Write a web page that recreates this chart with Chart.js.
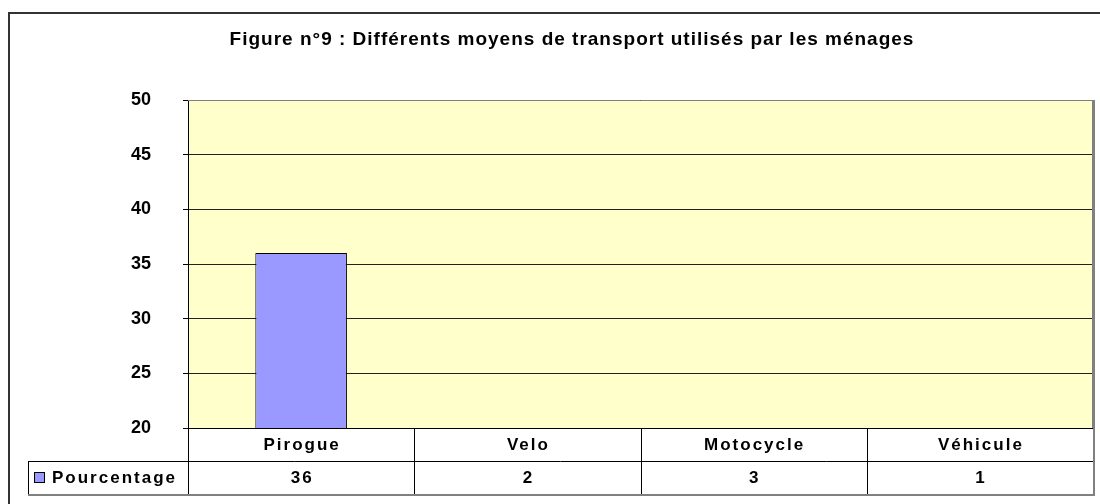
<!DOCTYPE html>
<html>
<head>
<meta charset="utf-8">
<script src="https://cdn.jsdelivr.net/npm/chart.js@4"></script>
<style>
  html, body { margin: 0; padding: 0; background: #fff; }
  #wrap { width: 1100px; height: 504px; }
</style>
</head>
<body>
<div id="wrap"><canvas id="myChart" width="1100" height="504"></canvas></div>
<script>
const chartTitle = 'Figure n°9 : Différents moyens de transport utilisés par les ménages';
const categories = ['Pirogue', 'Velo', 'Motocycle', 'Véhicule'];
const seriesName = 'Pourcentage';
const pourcentage = [36, 2, 3, 1];
const yTicks = [20, 25, 30, 35, 40, 45, 50];

const FONT = '"Liberation Sans", Arial, sans-serif';

// title, outer frame, plot border and the data table under the axis
const tablePlugin = {
    id: 'tablePlugin',
    beforeDraw(chart) {
        const ctx = chart.ctx;
        const a = chart.chartArea;
        ctx.save();
        ctx.fillStyle = '#fff';
        ctx.fillRect(0, 0, chart.width, chart.height);
        ctx.fillStyle = '#FFFFCC';
        ctx.fillRect(a.left, a.top, a.right - a.left, a.bottom - a.top);
        ctx.restore();
    },
    afterDraw(chart) {
        const ctx = chart.ctx;
        const a = chart.chartArea;
        const x = chart.scales.x;
        ctx.save();

        // outer frame
        ctx.strokeStyle = '#333';
        ctx.lineWidth = 2;
        ctx.strokeRect(9, 13, 1100, 500);

        // title
        ctx.fillStyle = '#000';
        ctx.font = 'bold 19px ' + FONT;
        ctx.letterSpacing = '1px';
        ctx.textAlign = 'center';
        ctx.textBaseline = 'middle';
        ctx.fillText(chartTitle, 572, 40);

        // plot border (top / right shadow)
        ctx.strokeStyle = '#808080';
        ctx.lineWidth = 1;
        ctx.beginPath();
        ctx.moveTo(a.left, a.top + 0.5);
        ctx.lineTo(a.right, a.top + 0.5);
        ctx.stroke();
        ctx.lineWidth = 3;
        ctx.beginPath();
        ctx.moveTo(a.right + 0.5, a.top);
        ctx.lineTo(a.right + 0.5, a.bottom);
        ctx.stroke();

        // table
        const rowH = 33;
        const y0 = a.bottom, y1 = a.bottom + rowH, y2 = a.bottom + 2 * rowH;
        const legendLeft = 28;
        ctx.strokeStyle = '#000';
        ctx.lineWidth = 1;
        ctx.beginPath();
        ctx.moveTo(a.left, y0 + 0.5); ctx.lineTo(a.right, y0 + 0.5);
        ctx.moveTo(legendLeft, y1 + 0.5); ctx.lineTo(a.right, y1 + 0.5);
        ctx.moveTo(legendLeft + 0.5, y1); ctx.lineTo(legendLeft + 0.5, y2);
        ctx.moveTo(a.left + 0.5, y0); ctx.lineTo(a.left + 0.5, y2);
        const step = (a.right - a.left) / categories.length;
        for (let i = 1; i < categories.length; i++) {
            const bx = Math.round(x.getPixelForValue(i) - step / 2) + 0.5;
            ctx.moveTo(bx, y0); ctx.lineTo(bx, y2);
        }
        ctx.stroke();
        ctx.strokeStyle = '#808080';
        ctx.lineWidth = 2;
        ctx.beginPath();
        ctx.moveTo(legendLeft, y2 + 1); ctx.lineTo(a.right + 2, y2 + 1);
        ctx.moveTo(a.right + 1, y0); ctx.lineTo(a.right + 1, y2 + 1);
        ctx.stroke();

        ctx.fillStyle = '#000';
        ctx.font = 'bold 17px ' + FONT;
        ctx.letterSpacing = '2px';
        ctx.textAlign = 'center';
        ctx.textBaseline = 'middle';
        categories.forEach((c, i) => {
            const cx = x.getPixelForValue(i) + 1;
            ctx.fillText(c, cx, y0 + rowH / 2 + 1);
            ctx.fillText(String(pourcentage[i]), cx, y1 + rowH / 2 + 1);
        });

        // legend key + series name
        ctx.fillStyle = '#9999FF';
        ctx.fillRect(34, 472, 11, 11);
        ctx.strokeStyle = '#000';
        ctx.lineWidth = 1;
        ctx.strokeRect(34.5, 472.5, 10, 10);
        ctx.fillStyle = '#000';
        ctx.textAlign = 'left';
        ctx.fillText(seriesName, 52, y1 + rowH / 2 + 1);
        ctx.restore();
    }
};

document.addEventListener('DOMContentLoaded', function () {
    const ctx = document.getElementById('myChart').getContext('2d');
    new Chart(ctx, {
        type: 'bar',
        data: {
            labels: categories,
            datasets: [{
                label: seriesName,
                data: pourcentage,
                backgroundColor: '#9999FF',
                borderColor: '#000',
                borderWidth: 1,
                borderSkipped: false,
                categoryPercentage: 1,
                barPercentage: 0.405,
                clip: 0
            }]
        },
        options: {
            responsive: false,
            animation: false,
            layout: { padding: { top: 100, bottom: 76, right: 7, left: 0 } },
            plugins: {
                legend: { display: false },
                title: { display: false },
                tooltip: { enabled: false }
            },
            scales: {
                x: { display: false },
                y: {
                    min: 20,
                    max: 50,
                    afterFit: (s) => { s.width = 188; },
                    afterBuildTicks: (s) => { s.ticks = yTicks.map(v => ({ value: v })); },
                    border: { display: true, color: '#000', width: 1 },
                    grid: { color: '#222', lineWidth: 1, tickLength: 5, tickColor: '#000' },
                    ticks: {
                        color: '#000',
                        padding: 32,
                        font: { family: FONT, size: 18, weight: 'bold' }
                    }
                }
            }
        },
        plugins: [tablePlugin]
    });
});
</script>
</body>
</html>
